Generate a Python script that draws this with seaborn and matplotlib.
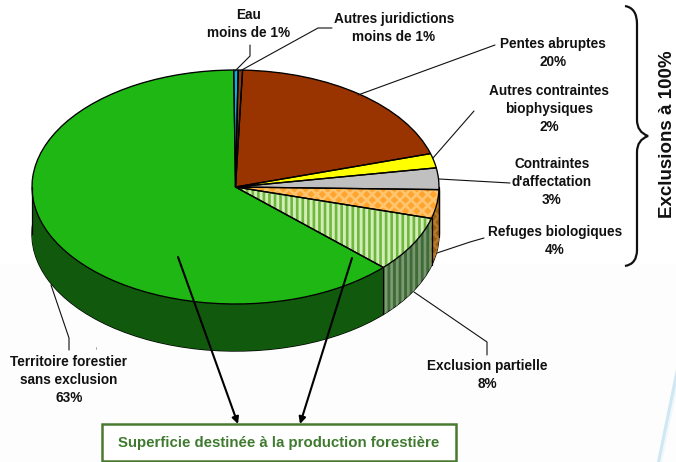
#! /usr/bin/env python3
import matplotlib
matplotlib.use("Agg")
import matplotlib.pyplot as plt
from matplotlib.patches import PathPatch, Polygon, Rectangle
from matplotlib.path import Path
import numpy as np
import seaborn as sns

sns.set_theme(style="white", font="Liberation Sans")
plt.rcParams["hatch.linewidth"] = 1.9

# clockwise from 12 o'clock
categories = ["Autres juridictions", "Pentes abruptes", "Autres contraintes biophysiques",
              "Contraintes d'affectation", "Refuges biologiques", "Exclusion partielle",
              "Territoire forestier sans exclusion", "Eau"]
values = [0.35, 20, 2, 3, 4, 7.8, 63.3, 0.35]
top_colors = ["#8a3a10", "#993300", "#ffff00", "#c0c0c0", "#ffa52e", "#d2edb6", "#1fb714", "#00b4e8"]
side_colors = ["#4a1a00", "#4a1a00", "#8a8a00", "#707070", "#9a5c10", "#3f6b35", "#11590c", "#005a80"]
top_hatches = [None, None, None, None, "xxx", "|||", None, None]
top_hatch_colors = [None, None, None, None, "#ffc470", "#6fb840", None, None]
side_hatches = [None, None, None, None, "xxx", "|||", None, None]
side_hatch_colors = [None, None, None, None, "#c48a3c", "#8ca584", None, None]

W, H = 676, 462
CX, CY, RX, RY = 235.5, 187, 203.5, 117
DEPTH = 47 / RY
START = 89.25

fig = plt.figure(figsize=(W / 100, H / 100), dpi=100)

# pixel axes for the background and all of the annotations
bg = fig.add_axes([0, 0, 1, 1], zorder=0)
bg.set_xlim(0, W)
bg.set_ylim(H, 0)
bg.axis("off")
bg.add_patch(Rectangle((0, 264), W, H - 264, fc="#fdfdfd", ec="none"))
bg.add_patch(Polygon([(676, 369), (657, 462), (662, 462), (676, 395)], fc="#f0f8fc", ec="none"))
bg.add_patch(Polygon([(676, 369), (657, 462), (660, 462), (676, 385)], fc="#cfe8f3", ec="none"))

# pie axes: the unit circle lands on the ellipse
ax = fig.add_axes([0, 0, 1, 1], zorder=1)
ax.patch.set_alpha(0)


def draw_pie(offset, colors, hatches, hatch_colors):
    wedges, _ = ax.pie(values, colors=colors, startangle=START, counterclock=False,
                       center=(0, -offset), radius=1,
                       wedgeprops={"linewidth": 0.0, "edgecolor": "none"})
    for w, h, hc in zip(wedges, hatches, hatch_colors):
        if h:
            w.set_hatch(h)
            w.set_edgecolor(hc)
    return wedges


# bottom outline, then the layers of the side wall
ax.pie(values, colors=side_colors, startangle=START, counterclock=False, center=(0, -DEPTH),
       wedgeprops={"linewidth": 1.0, "edgecolor": "black"})
for d in np.linspace(DEPTH, 0, 48):
    draw_pie(d, side_colors, side_hatches, side_hatch_colors)

wedges = draw_pie(0, top_colors, top_hatches, top_hatch_colors)
for w in wedges:
    t = np.deg2rad(w.theta1)
    if np.sin(t) < 0:
        ax.plot([np.cos(t)] * 2, [np.sin(t), np.sin(t) - DEPTH], color="black", lw=0.9)
ax.plot([-1, -1], [0, -DEPTH], color="black", lw=0.9)
ax.plot([1, 1], [0, -DEPTH], color="black", lw=0.9)
ax.pie(values, colors=["none"] * len(values), startangle=START, counterclock=False,
       wedgeprops={"linewidth": 0.95, "edgecolor": "black"})

ax.set_aspect("auto")
ax.set_xlim(-CX / RX, (W - CX) / RX)
ax.set_ylim((CY - H) / RY, CY / RY)
ax.axis("off")

# overlay for text and lines
top = fig.add_axes([0, 0, 1, 1], zorder=2)
top.patch.set_alpha(0)
top.set_xlim(0, W)
top.set_ylim(H, 0)
top.axis("off")

leaders = [
    [(250, 45), (250, 56), (235, 71)],
    [(332, 28), (318, 28), (240, 71)],
    [(495, 45), (358, 95)],
    [(474, 111), (433, 158)],
    [(439, 179), (510, 183)],
    [(437, 253), (470, 242), (484, 238)],
    [(414, 292), (487, 342), (487, 355)],
    [(51, 285), (69, 338), (69, 350)],
]
for pts in leaders:
    xs, ys = zip(*pts)
    top.plot(xs, ys, color="#111111", lw=0.8)
top.plot([95.5, 95.5], [347, 349], color="#999999", lw=0.6)

labels = [
    (249, 24, "Eau\nmoins de 1%"),
    (394, 28, "Autres juridictions\nmoins de 1%"),
    (553, 53, "Pentes abruptes\n20%"),
    (549, 109, "Autres contraintes\nbiophysiques\n2%"),
    (552, 182, "Contraintes\nd'affectation\n3%"),
    (555, 241, "Refuges biologiques\n4%"),
    (69, 380, "Territoire forestier\nsans exclusion\n63%"),
    (487, 375, "Exclusion partielle\n8%"),
]
for x, y, s in labels:
    top.text(x, y, s, ha="center", va="center", fontsize=9.8, fontweight="bold",
             color="#111111", linespacing=1.33)

# arrows down to the box
for start, end in [((178, 257), (238, 424)), ((352, 258), (300, 424))]:
    top.annotate("", xy=end, xytext=start,
                 arrowprops={"arrowstyle": "-|>", "color": "black", "lw": 1.5,
                             "mutation_scale": 10, "shrinkA": 0, "shrinkB": 0})

top.add_patch(Rectangle((102, 424), 354, 37, fc="white", ec="#4a7a30", lw=1.8, zorder=3))
top.text(279, 443, "Superficie destinée à la production forestière", ha="center", va="center",
         fontsize=10.8, fontweight="bold", color="#3f7a2f", zorder=4)

# brace round the full exclusions
brace = Path(
    [(625, 6), (637, 8), (637, 24), (637, 40), (637, 120), (637, 132), (648, 136),
     (637, 140), (637, 152), (637, 232), (637, 250), (637, 264), (625, 266)],
    [Path.MOVETO, Path.CURVE3, Path.CURVE3, Path.LINETO, Path.LINETO, Path.CURVE3, Path.CURVE3,
     Path.CURVE3, Path.CURVE3, Path.LINETO, Path.LINETO, Path.CURVE3, Path.CURVE3])
top.add_patch(PathPatch(brace, fc="none", ec="#111111", lw=1.6))
top.text(667, 134, "Exclusions à 100%", rotation=90, ha="center", va="center",
         fontsize=13.5, fontweight="bold", color="#111111")

fig.savefig("out.png", dpi=100)
